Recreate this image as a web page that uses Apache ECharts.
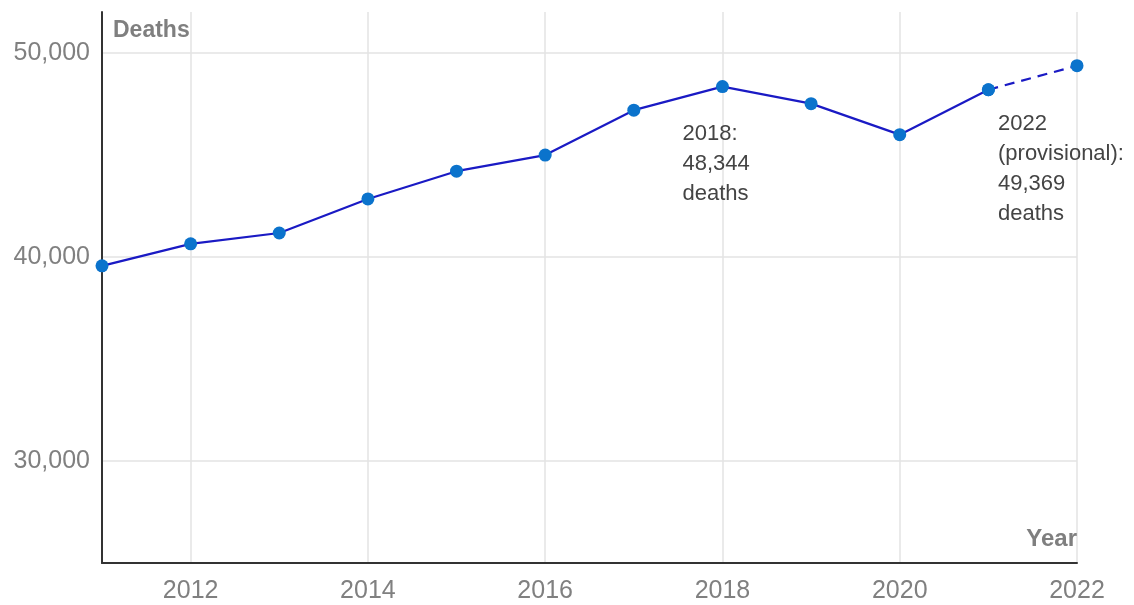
<!DOCTYPE html>
<html>
<head>
<meta charset="utf-8">
<script src="https://cdn.jsdelivr.net/npm/echarts@6/dist/echarts.min.js"></script>
<style>html,body{margin:0;padding:0;background:#fff}#c{width:1134px;height:605px}</style>
</head>
<body>
<div id="c"></div>
<script>
const years = [2011, 2012, 2013, 2014, 2015, 2016, 2017, 2018, 2019, 2020, 2021, 2022];
const deaths = [39560, 40640, 41170, 42840, 44200, 44990, 47190, 48344, 47510, 45990, 48190, 49369];
const xTicks = [2012, 2014, 2016, 2018, 2020, 2022];
const yTicks = [30000, 40000, 50000];
const annotations = {2018: '2018:\n48,344\ndeaths', 2022: '2022\n(provisional):\n49,369\ndeaths'};
const finalYears = 11; // number of finalised years (solid line), last one provisional

const FONT = 'Liberation Sans, Arial, sans-serif';
const solidData = years.slice(0, finalYears).map((y, i) => {
  const item = {value: [y, deaths[i]]};
  if (annotations[y]) item.label = {show: true, formatter: annotations[y], position: 'bottom', align: 'left', offset: [-40, 21]};
  return item;
});
const dashedData = years.slice(finalYears - 1).map((y, k) => {
  const i = finalYears - 1 + k;
  const item = {value: [y, deaths[i]]};
  if (annotations[y]) item.label = {show: true, formatter: annotations[y], position: 'bottom', align: 'left', offset: [-79, 32]};
  return item;
});

const chart = echarts.init(document.getElementById('c'));
chart.setOption({
  animation: false,
  grid: {left: 102, right: 57, top: 12, bottom: 42, containLabel: false},
  xAxis: {
    type: 'value', min: 2011, max: 2022, interval: 1,
    name: 'Year', nameLocation: 'end', nameGap: 0,
    nameTextStyle: {color: '#7f7f7f', fontWeight: 'bold', fontSize: 24, fontFamily: FONT, align: 'right', verticalAlign: 'bottom', padding: [0, 0, 12, 0]},
    axisLine: {show: true, lineStyle: {color: '#333', width: 2}},
    axisTick: {show: false, customValues: xTicks},
    axisLabel: {customValues: xTicks, formatter: v => String(v), color: '#808080', fontSize: 25, fontFamily: FONT, margin: 16},
    splitLine: {show: true, lineStyle: {color: '#e3e3e3', width: 1.5}}
  },
  yAxis: {
    type: 'value', min: 25000, max: 52000,
    name: 'Deaths', nameLocation: 'end', nameGap: -30,
    nameTextStyle: {color: '#7f7f7f', fontWeight: 'bold', fontSize: 23, fontFamily: FONT, align: 'left', padding: [0, 0, 0, 11]},
    axisLine: {show: true, lineStyle: {color: '#333', width: 2}},
    axisTick: {show: false, customValues: yTicks},
    axisLabel: {customValues: yTicks, color: '#808080', fontSize: 25, fontFamily: FONT, margin: 12},
    splitLine: {show: true, lineStyle: {color: '#e3e3e3', width: 1.5}}
  },
  series: [
    {
      type: 'line', data: solidData, symbol: 'circle', symbolSize: 13,
      lineStyle: {color: '#1a1ac4', width: 2.2},
      itemStyle: {color: '#0b73cc'},
      label: {color: '#444', fontSize: 22, fontFamily: FONT, lineHeight: 30},
      z: 3
    },
    {
      type: 'line', data: dashedData, symbol: 'circle', symbolSize: 13,
      lineStyle: {color: '#1a1ac4', width: 2.2, type: [10, 7]},
      itemStyle: {color: '#0b73cc'},
      label: {color: '#444', fontSize: 22, fontFamily: FONT, lineHeight: 30},
      z: 3
    }
  ]
});
</script>
</body>
</html>
